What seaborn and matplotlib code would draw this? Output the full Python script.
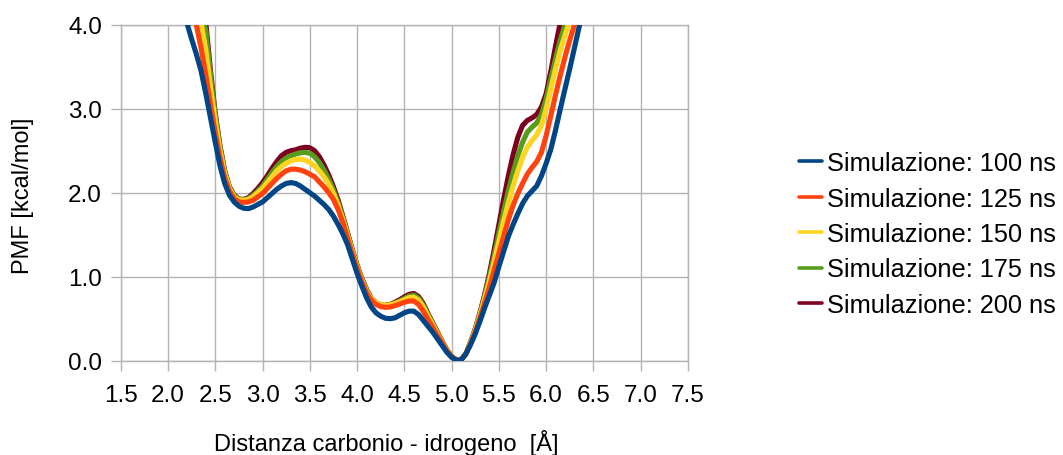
import matplotlib
matplotlib.use("Agg")
import matplotlib.pyplot as plt
import pandas as pd
import seaborn as sns

# distance [Å]
distanza = [2.15, 2.20, 2.25, 2.30, 2.35, 2.40, 2.45, 2.50, 2.55, 2.60, 2.65, 2.70, 2.75, 2.80,
            2.85, 2.90, 2.95, 3.00, 3.05, 3.10, 3.15, 3.20, 3.25, 3.30, 3.35, 3.40, 3.45, 3.50,
            3.55, 3.60, 3.65, 3.70, 3.75, 3.80, 3.85, 3.90, 3.95, 4.00, 4.05, 4.10, 4.15, 4.20,
            4.25, 4.30, 4.35, 4.40, 4.45, 4.50, 4.55, 4.60, 4.65, 4.70, 4.75, 4.80, 4.85, 4.90,
            4.95, 5.00, 5.05, 5.10, 5.15, 5.20, 5.25, 5.30, 5.35, 5.40, 5.45, 5.50, 5.55, 5.60,
            5.65, 5.70, 5.75, 5.80, 5.85, 5.90, 5.95, 6.00, 6.05, 6.10, 6.15, 6.20, 6.25, 6.30,
            6.35, 6.40]

# PMF [kcal/mol]
pmf_100 = [4.25, 4.02, 3.83, 3.65, 3.45, 3.18, 2.89, 2.60, 2.32, 2.11, 1.97, 1.89, 1.84, 1.815,
           1.81, 1.83, 1.86, 1.89, 1.94, 1.99, 2.04, 2.08, 2.11, 2.12, 2.11, 2.08, 2.04, 2.00,
           1.96, 1.91, 1.86, 1.80, 1.72, 1.62, 1.51, 1.38, 1.21, 1.04, 0.89, 0.75, 0.64, 0.57,
           0.53, 0.505, 0.50, 0.51, 0.54, 0.57, 0.59, 0.59, 0.55, 0.48, 0.41, 0.34, 0.26, 0.18,
           0.10, 0.04, 0.005, 0.01, 0.08, 0.19, 0.32, 0.47, 0.63, 0.78, 0.93, 1.12, 1.30, 1.48,
           1.62, 1.75, 1.87, 1.96, 2.02, 2.08, 2.20, 2.35, 2.52, 2.75, 3.00, 3.24, 3.48, 3.73,
           3.98, 4.22]
pmf_125 = [4.90, 4.60, 4.30, 4.00, 3.72, 3.40, 3.05, 2.72, 2.42, 2.18, 2.02, 1.93, 1.89, 1.885,
           1.89, 1.91, 1.95, 1.99, 2.05, 2.11, 2.17, 2.22, 2.26, 2.28, 2.28, 2.27, 2.25, 2.22,
           2.19, 2.13, 2.07, 2.00, 1.92, 1.80, 1.64, 1.46, 1.27, 1.10, 0.94, 0.81, 0.72, 0.67,
           0.645, 0.635, 0.64, 0.655, 0.675, 0.695, 0.71, 0.71, 0.67, 0.59, 0.49, 0.40, 0.30, 0.21,
           0.12, 0.05, 0.01, 0.01, 0.08, 0.20, 0.34, 0.51, 0.69, 0.88, 1.08, 1.28, 1.48, 1.68,
           1.85, 1.99, 2.11, 2.22, 2.30, 2.37, 2.48, 2.68, 2.92, 3.17, 3.40, 3.62, 3.82, 4.00,
           4.20, 4.40]
pmf_150 = [5.00, 4.75, 4.50, 4.25, 4.02, 3.70, 3.25, 2.85, 2.50, 2.23, 2.05, 1.95, 1.915, 1.91,
           1.92, 1.95, 2.00, 2.05, 2.12, 2.19, 2.26, 2.31, 2.35, 2.38, 2.395, 2.40, 2.39, 2.36,
           2.32, 2.26, 2.19, 2.10, 1.99, 1.85, 1.68, 1.49, 1.30, 1.12, 0.96, 0.83, 0.74, 0.69,
           0.665, 0.66, 0.665, 0.68, 0.70, 0.725, 0.75, 0.755, 0.72, 0.64, 0.53, 0.43, 0.32, 0.22,
           0.13, 0.05, 0.01, 0.01, 0.08, 0.21, 0.36, 0.54, 0.74, 0.95, 1.18, 1.42, 1.66, 1.88,
           2.08, 2.26, 2.42, 2.54, 2.62, 2.69, 2.80, 3.00, 3.24, 3.48, 3.70, 3.88, 4.05, 4.25,
           4.45, 4.65]
pmf_175 = [5.10, 4.85, 4.60, 4.38, 4.17, 3.93, 3.40, 2.92, 2.54, 2.25, 2.06, 1.96, 1.92, 1.915,
           1.93, 1.97, 2.02, 2.08, 2.16, 2.24, 2.31, 2.37, 2.41, 2.44, 2.46, 2.475, 2.48, 2.47,
           2.43, 2.36, 2.27, 2.16, 2.03, 1.88, 1.70, 1.51, 1.31, 1.13, 0.97, 0.84, 0.74, 0.685,
           0.66, 0.655, 0.665, 0.685, 0.71, 0.74, 0.77, 0.78, 0.745, 0.66, 0.55, 0.44, 0.33, 0.22,
           0.13, 0.05, 0.01, 0.01, 0.08, 0.22, 0.37, 0.56, 0.77, 1.00, 1.25, 1.52, 1.78, 2.02,
           2.24, 2.44, 2.60, 2.72, 2.78, 2.83, 2.93, 3.12, 3.36, 3.60, 3.82, 4.00, 4.20, 4.40,
           4.60, 4.80]
pmf_200 = [5.20, 4.95, 4.70, 4.45, 4.22, 4.02, 3.45, 2.94, 2.56, 2.26, 2.07, 1.97, 1.925, 1.92,
           1.94, 1.99, 2.05, 2.12, 2.20, 2.29, 2.37, 2.44, 2.48, 2.50, 2.51, 2.53, 2.54, 2.535,
           2.50, 2.43, 2.33, 2.21, 2.07, 1.91, 1.72, 1.52, 1.32, 1.14, 0.98, 0.85, 0.745, 0.69,
           0.665, 0.66, 0.67, 0.695, 0.725, 0.76, 0.79, 0.80, 0.765, 0.68, 0.56, 0.45, 0.34, 0.23,
           0.13, 0.05, 0.01, 0.01, 0.08, 0.22, 0.38, 0.57, 0.79, 1.04, 1.32, 1.62, 1.92, 2.20,
           2.45, 2.66, 2.80, 2.86, 2.89, 2.93, 3.02, 3.18, 3.45, 3.75, 4.03, 4.30, 4.55, 4.80,
           5.05, 5.30]

etichette = ["Simulazione: 100 ns", "Simulazione: 125 ns", "Simulazione: 150 ns",
             "Simulazione: 175 ns", "Simulazione: 200 ns"]
colori = ["#004586", "#ff420e", "#ffd320", "#579d1c", "#7e0021"]
serie = [pmf_100, pmf_125, pmf_150, pmf_175, pmf_200]

x_ticks = [1.5, 2.0, 2.5, 3.0, 3.5, 4.0, 4.5, 5.0, 5.5, 6.0, 6.5, 7.0, 7.5]
y_ticks = [0.0, 1.0, 2.0, 3.0, 4.0]

sns.set_theme(style="whitegrid")
plt.rcParams['font.family'] = ['Liberation Sans', 'DejaVu Sans']
plt.rcParams['text.color'] = 'black'

fig = plt.figure(figsize=(10.63, 4.56), dpi=100)
ax = fig.add_axes([120.7 / 1063, 1 - 361.7 / 456, (688 - 120.7) / 1063, (361.7 - 25.7) / 456])

# 200 ns drawn first, 100 ns on top
for i in reversed(range(len(serie))):
    df = pd.DataFrame({"x": distanza, "y": serie[i]})
    sns.lineplot(data=df, x="x", y="y", ax=ax, color=colori[i], linewidth=3.7,
                 zorder=10 - i, legend=False)
for l in ax.get_lines():
    l.set_solid_joinstyle("round")

ax.set_xlim(1.5, 7.5)
ax.set_ylim(0, 4)
ax.set_xticks(x_ticks)
ax.set_yticks(y_ticks)
ax.set_xticklabels([f"{v:.1f}" for v in x_ticks])
ax.set_yticklabels([f"{v:.1f}" for v in y_ticks])
ax.set_xlabel("")
ax.set_ylabel("")

ax.grid(True, color="#b3b3b3", linewidth=1.0)
for s in ax.spines.values():
    s.set_color("#b3b3b3")
    s.set_linewidth(1.0)
ax.tick_params(axis="both", which="major", length=7.5, width=1.0, color="#b3b3b3",
               labelsize=17.5, labelcolor="black", direction="out")
ax.tick_params(axis="x", pad=9)
ax.tick_params(axis="y", pad=6)
ax.xaxis.set_ticks_position("bottom")
ax.yaxis.set_ticks_position("left")

fig.text(386 / 1063, 1 - 443 / 456, "Distanza carbonio - idrogeno  [Å]",
         ha="center", va="center", fontsize=17, color="black")
fig.text(23 / 1063, 1 - 196 / 456, "PMF [kcal/mol]", rotation=90,
         ha="center", va="center", fontsize=17, color="black")

handles = [plt.Line2D([], [], color=c, linewidth=2.6) for c in colori]
fig.legend(handles, etichette, loc="center left", bbox_to_anchor=(799 / 1063, 1 - 235 / 456),
           frameon=False, fontsize=18.3, handlelength=0.9, handletextpad=0.2,
           labelspacing=0.45, borderpad=0, borderaxespad=0)

fig.savefig("out.png", dpi=100)
